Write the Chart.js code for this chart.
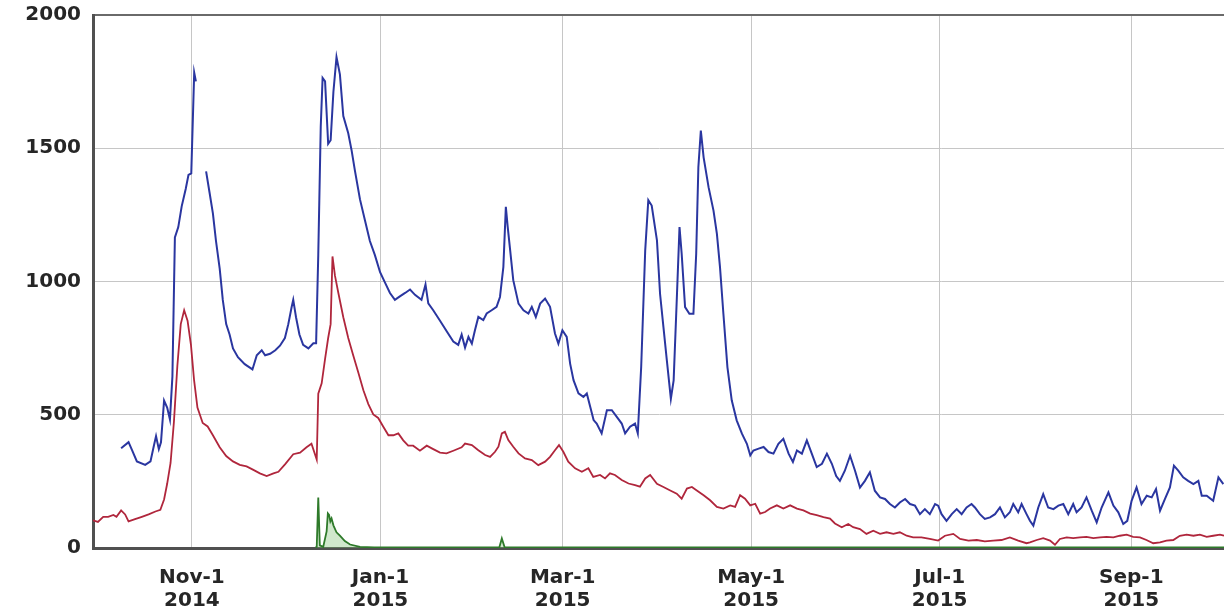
<!DOCTYPE html>
<html><head><meta charset="utf-8">
<script src="https://cdn.jsdelivr.net/npm/chart.js@4/dist/chart.umd.min.js"></script>
<style>html,body{margin:0;padding:0;background:#fff;overflow:hidden;}</style>
</head><body>
<canvas id="c" width="1224" height="614"></canvas>
<script>
// Days counted from 2014-10-01 (day 0)
const blueDays = [8.1,10.5,11.6,13.2,15.9,17.6,18.7,19.4,20.3,21,22,23,23.9,24.7,25.5,26.6,27.7,29,29.9,30.8,31.75,32.3,34,
35.6,36.7,37.8,38.8,40,41,42.1,43.2,44.3,45.9,48.1,50.6,52,53.6,54.7,56.3,58,
59.5,61.1,62.2,63.3,63.8,64.7,65.8,67,68.7,70.3,71.2,71.9,72.7,73.3,74.1,75.1,75.9,76.8,77.8,78.9,80,81.6,82.7,83.8,85.4,87,88.6,90.2,91.9,93.5,95.1,96.7,98.3,100,101.6,103.2,105.3,106.6,107.5,109.1,111.3,113.4,115.6,117.2,118.3,119.4,
120.5,121.6,122.6,123.7,125.3,126.4,128,129.6,130.7,131.8,132.6,133.2,134,135,136.7,138.3,139.9,141,142.3,143.7,145.3,146.9,148.5,149.6,150.9,152.3,153.4,154.5,156.1,157.7,158.8,159.9,161,162,163.6,165.3,166.9,168.5,170.1,171.2,172.8,174.4,175.3,176.4,177.7,178.7,
179.8,181.5,182.5,183.6,184.7,186,186.9,187.9,188.8,189.5,190.6,192,193.3,194.2,194.9,195.7,196.6,198.2,199.8,200.9,201.9,203,204.3,205.7,207.3,209,210.6,211.7,212.7,214.4,216,217.6,219.2,220.8,222.4,224.1,225.5,226.8,228.4,230,231.6,233.2,234.9,236.5,238.1,
239.5,240.7,242.3,244,245.6,247.2,248.8,250.4,252,253.7,255.3,256.9,258.5,260.1,261.8,263.4,265,266.6,268.2,269.8,271.5,272.5,273.6,275.2,276.9,278.5,280.1,281.7,283.3,284.4,286,287.6,289.3,290.9,292.5,294.1,295.7,296.8,298.4,299.5,301.1,
302.2,303.3,304.9,306.5,308.1,309.8,311.4,313,314.6,316.2,317.3,318.9,320.5,322.2,323.8,325.4,327.6,329.2,330.8,332.4,333.7,335.1,336.7,338.3,340,341.6,343,344.3,345.9,347.5,348.8,350.2,351.8,353.4,355.1,356.7,357.8,359.4,361.5,363.2,364.8];
const blueValues = [374,397,368,325,312,325,384,420,371,397,553,527,482,644,1165,1204,1282,1347,1400,1406,1784,1751,null,
1413,1335,1256,1152,1048,931,840,801,749,716,690,670,723,742,723,729,742,
759,788,840,905,931,866,801,762,749,768,768,1100,1582,1764,1751,1517,1530,1712,1842,1777,1621,1556,1491,1413,1308,1230,1152,1100,1035,996,957,931,944,957,970,950,931,989,918,892,853,814,775,762,801,752,
792,767,817,867,855,880,892,905,942,1055,1280,1205,1117,1005,917,892,880,905,867,917,936,905,805,767,817,792,692,630,580,567,580,530,480,467,430,517,517,492,467,430,455,467,430,680,1117,1305,
1285,1154,954,829,704,560,629,929,1204,1104,904,879,879,1104,1429,1566,1466,1354,1266,1179,1054,879,679,554,479,429,391,348,366,373,379,360,354,391,410,354,323,366,354,404,354,304,316,354,316,
270,252,290,346,290,227,252,284,215,190,184,165,152,171,184,165,159,127,146,127,165,159,127,102,127,146,127,152,165,152,127,109,115,127,152,115,134,165,134,165,127,
102,84,152,202,152,146,159,165,127,165,134,152,190,140,96,152,209,159,134,90,102,177,227,165,196,190,221,140,184,227,309,290,265,252,240,252,196,196,177,265,240];

const redDays = [-1,0.6,2.3,3.9,5.6,6.6,8.1,9.4,10.5,12.6,14.8,17,19.2,20.8,22,23,24.1,25.2,26.3,27.4,28.5,29.6,30.7,31.7,32.8,34.5,36.1,37.8,40,42.1,44.3,46.5,48.7,50.9,53,55.2,57.4,59,
61.2,63.8,66,68.1,69.7,71.4,71.9,73,74.1,75.1,75.9,76.5,77.3,78.4,80,81.6,83.2,84.9,86.5,88.1,89.7,91.3,92.9,94.6,96.2,97.8,99.4,101,102.6,104.8,107,109.1,111.3,113.4,115.6,118.3,
119.4,121.6,123.7,125.9,127.5,129.1,130.2,131.3,132.3,133.4,135,136.7,138.8,141,143.1,145.3,146.9,148.5,149.8,151.2,152.8,155,157.2,159.3,160.9,163.1,164.7,166.3,167.9,170.1,172.3,174.4,176,177.7,
179.3,181.5,183.6,185.8,187.9,189.5,191.2,192.8,194.4,196.6,198.7,200.9,203,205.2,206.8,208.4,210,211.7,213.3,214.9,216.5,218.1,220.3,222.4,224.6,226.8,228.9,231.1,233.2,235.4,237.5,
239.1,241.3,243.4,245,247.2,249.3,251.5,253.7,255.8,258,260.1,262.3,264.4,267.1,269.8,272.5,274.7,277.4,279.6,282.3,285,287.6,290.3,293,295.7,298.4,301.1,
302.2,304.4,306.5,308.7,310.3,311.9,314.1,316.2,318.4,320.5,322.7,324.9,327,329.2,331.3,333.5,335.6,337.8,339.9,342.1,344.3,346.4,348.6,350.7,352.9,355.1,357.2,359.4,361.5,363.7,365];
const redValues = [104,98,117,117,124,117,141,126,100,108,117,126,137,143,182,241,319,475,684,840,892,853,762,631,527,469,456,423,378,345,325,312,306,293,280,270,280,286,
315,352,358,378,391,332,579,618,710,788,840,1094,1022,957,866,788,723,657,592,540,501,488,456,423,423,430,404,384,384,365,384,371,358,355,365,378,
392,386,367,349,342,361,380,430,436,405,380,355,336,330,311,324,342,367,386,361,324,299,286,299,267,274,261,280,274,255,242,236,230,261,
274,241,229,216,204,185,223,229,216,198,179,154,148,160,154,198,185,160,166,129,135,148,160,148,160,148,141,129,123,116,110,
92,78,90,78,71,53,65,53,59,53,59,46,40,40,34,28,46,53,34,28,30,25,28,30,40,28,18,
21,30,37,28,12,34,40,37,40,42,37,40,42,40,46,50,42,40,30,18,21,28,30,46,50,46,50,42,46,50,46];

const greenDays = [71,71.4,71.9,72.4,73.5,74.6,75,75.4,75.8,76.2,76.8,77.8,78.9,80.5,82.2,85.4,90,130.5,131.3,132.2,365];
const greenValues = [3,4,189,10,4,62,130,124,100,111,85,59,46,26,13,4,2,3,36,3,2];

const tickDays = [31,92,151,212,273,335];
const tickMonths = ['Nov-1','Jan-1','Mar-1','May-1','Jul-1','Sep-1'];
const tickYears = ['2014','2015','2015','2015','2015','2015'];
const yTicks = [0,500,1000,1500,2000];

function pts(days, vals){ return days.map((d,i)=>({x:d, y:vals[i]})); }

const labelFont = {family:'DejaVu Sans', size:20, weight:'bold', lineHeight:1.12};

new Chart(document.getElementById('c'), {
  type:'line',
  data:{datasets:[
    {data:pts(blueDays, blueValues), borderColor:'#2a36a0', borderWidth:2, pointRadius:0, tension:0, spanGaps:false},
    {data:pts(redDays, redValues), borderColor:'#b0263c', borderWidth:1.8, pointRadius:0, tension:0},
    {data:pts(greenDays, greenValues), borderColor:'#2e7a2a', borderWidth:1.8, pointRadius:0, tension:0, fill:'origin', backgroundColor:'rgba(120,190,110,0.35)'}
  ]},
  options:{
    responsive:false, animation:false, devicePixelRatio:1,
    layout:{padding:{top:15,right:0,left:0,bottom:0}},
    plugins:{legend:{display:false}, tooltip:{enabled:false}},
    scales:{
      x:{type:'linear', min:-1, max:365,
        afterBuildTicks:s=>{ s.ticks = tickDays.map(v=>({value:v})); },
        afterFit:s=>{ s.height = 66; s.paddingLeft = 0; s.paddingRight = 0; },
        ticks:{autoSkip:false, maxRotation:0, padding:19, color:'#262626', font:labelFont,
          callback:(v)=>{ const i = tickDays.indexOf(v); return i<0 ? '' : [tickMonths[i], tickYears[i]]; }},
        grid:{color:'#c6c6c6', lineWidth:1, drawTicks:false},
        border:{display:true, color:'#505050', width:3}
      },
      y:{min:0, max:2000,
        afterBuildTicks:s=>{ s.ticks = yTicks.map(v=>({value:v})); },
        afterFit:s=>{ s.width = 93; s.paddingTop = 0; s.paddingBottom = 0; },
        ticks:{padding:12, color:'#262626', font:labelFont, callback:(v)=>String(v)},
        grid:{color:c=> (c.tick && c.tick.value===2000) ? '#6a6a6a' : '#c6c6c6',
              lineWidth:c=> (c.tick && c.tick.value===2000) ? 2 : 1, drawTicks:false},
        border:{display:true, color:'#505050', width:3}
      }
    }
  }
});
</script>
</body></html>
